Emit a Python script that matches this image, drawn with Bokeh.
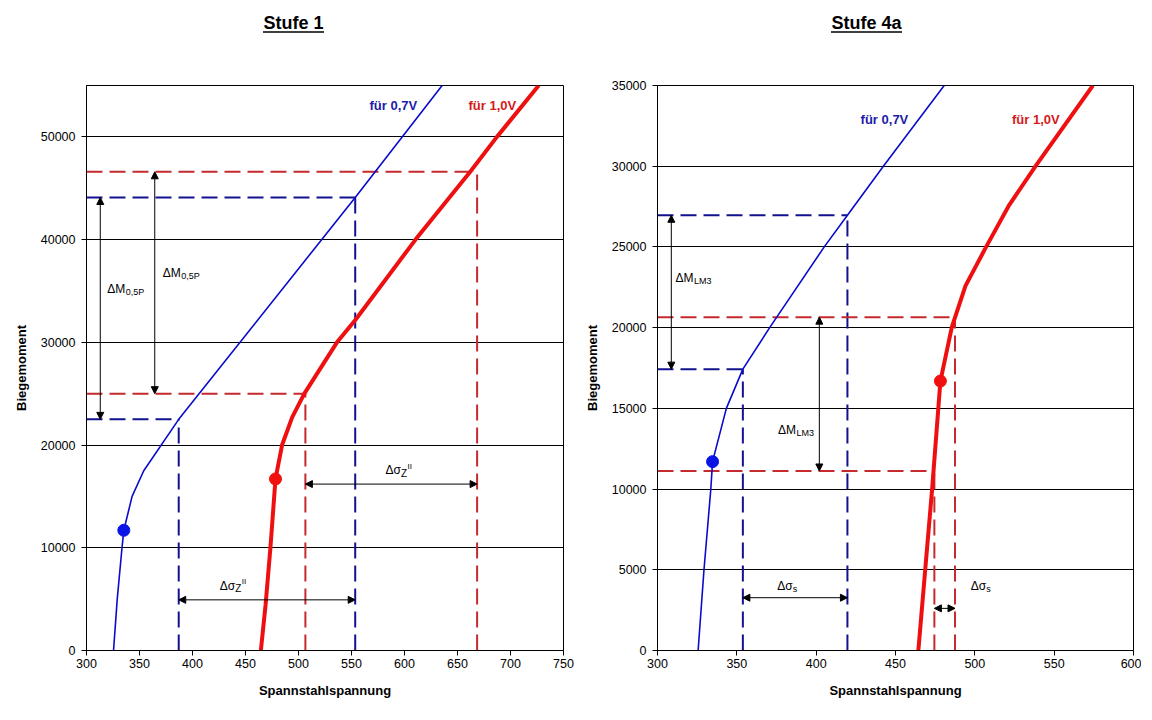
from bokeh.plotting import figure
from bokeh.layouts import row, column
from bokeh.models import (Range1d, Arrow, NormalHead, FixedTicker,
                          ColumnDataSource, NumeralTickFormatter)
from bokeh.embed import file_html
from bokeh.resources import INLINE
from bokeh.core.properties import value

FONT = "Liberation Sans"

# ---------------- titles ----------------
titles = ["Stufe 1", "Stufe 4a"]

# ---------------- Stufe 1 ----------------
s1_x_range = [300, 750]
s1_y_range = [0, 55000]
s1_x_ticks = [300, 350, 400, 450, 500, 550, 600, 650, 700, 750]
s1_y_ticks = [0, 10000, 20000, 30000, 40000, 50000]
s1_blue_x = [325.5, 329, 333.5, 335.2, 343, 354, 387, 553.5, 635.5]
s1_blue_y = [0, 5000, 10000, 11700, 15000, 17500, 22500, 44100, 55000]
s1_red_x = [464.5, 469, 473.5, 478.3, 484.5, 494, 505.5, 536.3, 553.8, 610.4, 662, 687.2, 726.6]
s1_red_y = [0, 4500, 10000, 16700, 20000, 22700, 25000, 30000, 32200, 40000, 46600, 50000, 55000]
s1_blue_pt = [335.2, 11700]
s1_red_pt = [478.3, 16700]
s1_blue_corner_x = [387, 553.5]
s1_blue_corner_y = [22500, 44100]
s1_red_corner_x = [506.5, 668.5]
s1_red_corner_y = [25000, 46600]
s1_arrow_x0 = [313, 364.4, 387, 506.5]
s1_arrow_y0 = [22500, 25000, 4930, 16200]
s1_arrow_x1 = [313, 364.4, 553.5, 668.5]
s1_arrow_y1 = [44100, 46600, 4930, 16200]
s1_lab_x = [319.5, 371.9, 425.7, 582.0]
s1_lab_y = [35180, 36730, 6320, 17550]
s1_lab_main = ["ΔM", "ΔM", "Δσ", "Δσ"]
s1_lab_sub = ["0,5P", "0,5P", "Z", "Z"]
s1_lab_sup = ["", "", "II", "II"]
s1_series_x = [567, 660.4]
s1_series_y = [53060, 53060]
s1_series_text = ["für 0,7V", "für 1,0V"]

# ---------------- Stufe 4a ----------------
s4_x_range = [300, 600]
s4_y_range = [0, 35000]
s4_x_ticks = [300, 350, 400, 450, 500, 550, 600]
s4_y_ticks = [0, 5000, 10000, 15000, 20000, 25000, 30000, 35000]
s4_blue_x = [325.6, 329.3, 333.6, 334.7, 343.4, 353.8, 370.9, 405.2, 419.7, 442.7, 480.7]
s4_blue_y = [0, 5000, 10000, 11700, 15000, 17430, 20030, 25020, 26960, 30050, 35000]
s4_red_x = [464.4, 468.8, 473.1, 478.3, 485.5, 494.1, 507.2, 521.3, 538.6, 574.4]
s4_red_y = [0, 5080, 10020, 16690, 20030, 22590, 25020, 27540, 30050, 35000]
s4_blue_pt = [334.7, 11700]
s4_red_pt = [478.3, 16690]
s4_blue_corner_x = [353.8, 419.7]
s4_blue_corner_y = [17430, 26960]
s4_red_corner_x = [474.5, 487.5]
s4_red_corner_y = [11120, 20650]
s4_arrow_x0 = [308.7, 402, 353.8, 474.5]
s4_arrow_y0 = [17430, 11120, 3270, 2610]
s4_arrow_x1 = [308.7, 402, 419.7, 487.5]
s4_arrow_y1 = [26960, 20650, 3270, 2610]
s4_lab_x = [311.3, 375.9, 375.5, 497.4]
s4_lab_y = [23100, 13680, 3990, 3990]
s4_lab_main = ["ΔM", "ΔM", "Δσ", "Δσ"]
s4_lab_sub = ["LM3", "LM3", "s", "s"]
s4_lab_sup = ["", "", "", ""]
s4_series_x = [428, 523.4]
s4_series_y = [32900, 32900]
s4_series_text = ["für 0,7V", "für 1,0V"]

X_LABEL = "Spannstahlspannung"
Y_LABEL = "Biegemoment"

BLUE = "#0A0ACD"
BLUE_DASH = "#12128F"
BLUE_TXT = "#1C1CA8"
RED = "#EE1010"
RED_DASH = "#C42A2E"
RED_TXT = "#D41A1A"

W1, W2 = 578, 563
HEAD_H = 44


def make_panel(xr, yr, xt, yt, bx, by, rx, ry, bpt, rpt,
               bcx, bcy, rcx, rcy, ax0, ay0, ax1, ay1,
               lx, ly, lmain, lsub, lsup, sx, sy, stext,
               width, height, bl, br, bt, bb):
    p = figure(width=width, height=height,
               x_range=Range1d(*xr), y_range=Range1d(*yr),
               output_backend="svg", toolbar_location=None,
               min_border_left=bl, min_border_right=br,
               min_border_top=bt, min_border_bottom=bb,
               background_fill_color="white", border_fill_color="white")
    p.outline_line_color = "black"
    p.outline_line_width = 1
    p.outline_line_alpha = 1
    p.xgrid.visible = False
    p.ygrid.grid_line_color = "black"
    p.ygrid.grid_line_width = 1
    p.ygrid.grid_line_alpha = 1
    p.xaxis.ticker = FixedTicker(ticks=xt)
    p.yaxis.ticker = FixedTicker(ticks=yt)
    p.yaxis.formatter = NumeralTickFormatter(format="0")
    p.xaxis.formatter = NumeralTickFormatter(format="0")
    for ax in (p.xaxis[0], p.yaxis[0]):
        ax.axis_line_color = "black"
        ax.major_tick_line_color = "black"
        ax.major_tick_out = 5
        ax.major_tick_in = 0
        ax.minor_tick_line_color = None
        ax.major_label_text_font = FONT
        ax.major_label_text_font_size = "12.5px"
        ax.major_label_text_color = "black"
        ax.axis_label_text_font = FONT
        ax.axis_label_text_font_size = "13px"
        ax.axis_label_text_font_style = "bold"
        ax.axis_label_text_color = "black"
    p.xaxis.axis_label = X_LABEL
    p.yaxis.axis_label = Y_LABEL
    p.xaxis.major_label_standoff = 3
    p.xaxis.axis_label_standoff = 12
    p.yaxis.major_label_standoff = 6
    p.yaxis.axis_label_standoff = 9

    x0 = xr[0]
    for cx, cy, col in ((bcx, bcy, BLUE_DASH), (rcx, rcy, RED_DASH)):
        p.segment(x0=[x0] * len(cx), y0=cy, x1=cx, y1=cy,
                  line_color=col, line_width=2, line_dash="16 7")
        p.segment(x0=cx, y0=[yr[0]] * len(cx), x1=cx, y1=cy,
                  line_color=col, line_width=2, line_dash="16 7")

    p.line(bx, by, line_color=BLUE, line_width=1.6)
    p.line(rx, ry, line_color=RED, line_width=4)
    p.scatter([bpt[0]], [bpt[1]], size=12, color="#0A14E6")
    p.scatter([rpt[0]], [rpt[1]], size=12, color="#F01010")

    src = ColumnDataSource(dict(x0=ax0, y0=ay0, x1=ax1, y1=ay1))
    p.add_layout(Arrow(source=src, x_start="x0", y_start="y0",
                       x_end="x1", y_end="y1", line_width=1, line_color="black",
                       start=NormalHead(size=7, fill_color="black", line_color="black"),
                       end=NormalHead(size=7, fill_color="black", line_color="black")))

    main_w = {"ΔM": 18.5, "Δσ": 15.5}
    sub_w = {"Z": 6.5}
    for x, y, m, s, u in zip(lx, ly, lmain, lsub, lsup):
        p.text([x], [y], text=[m], text_font=value(FONT), text_font_size="12px",
               text_align="left", text_baseline="middle", text_color="black")
        sub_size = "10px" if s == "Z" else "9px"
        p.text([x], [y], text=[s], text_font=value(FONT), text_font_size=sub_size,
               text_align="left", text_baseline="middle", text_color="black",
               x_offset=main_w[m], y_offset=3)
        if u:
            p.text([x], [y], text=[u], text_font=value(FONT), text_font_size="8px",
                   text_align="left", text_baseline="middle", text_color="black",
                   x_offset=main_w[m] + sub_w.get(s, 5), y_offset=-4)

    p.text([sx[0]], [sy[0]], text=[stext[0]], text_font=value(FONT), text_font_size="13px",
           text_font_style="bold", text_color=BLUE_TXT, text_align="left", text_baseline="middle")
    p.text([sx[1]], [sy[1]], text=[stext[1]], text_font=value(FONT), text_font_size="13px",
           text_font_style="bold", text_color=RED_TXT, text_align="left", text_baseline="middle")
    return p


# header strip with the two underlined titles (pixel coordinate space)
head = figure(width=W1 + W2, height=HEAD_H, x_range=Range1d(0, W1 + W2),
              y_range=Range1d(HEAD_H, 0), output_backend="svg", toolbar_location=None,
              min_border=0, x_axis_location=None, y_axis_location=None)
head.grid.visible = False
head.outline_line_color = None
title_cx = [293, 866]
title_w = [61, 71]
head.text(title_cx, [22, 22], text=titles, text_font=value(FONT), text_font_size="18px",
          text_font_style="bold", text_color="black", text_align="center",
          text_baseline="middle")
head.segment(x0=[c - w / 2 for c, w in zip(title_cx, title_w)], y0=[31.5, 31.5],
             x1=[c + w / 2 for c, w in zip(title_cx, title_w)], y1=[31.5, 31.5],
             line_color="black", line_width=1.6)

p1 = make_panel(s1_x_range, s1_y_range, s1_x_ticks, s1_y_ticks,
                s1_blue_x, s1_blue_y, s1_red_x, s1_red_y, s1_blue_pt, s1_red_pt,
                s1_blue_corner_x, s1_blue_corner_y, s1_red_corner_x, s1_red_corner_y,
                s1_arrow_x0, s1_arrow_y0, s1_arrow_x1, s1_arrow_y1,
                s1_lab_x, s1_lab_y, s1_lab_main, s1_lab_sub, s1_lab_sup,
                s1_series_x, s1_series_y, s1_series_text,
                width=W1, height=666, bl=86, br=15, bt=84 - HEAD_H, bb=60)

p2 = make_panel(s4_x_range, s4_y_range, s4_x_ticks, s4_y_ticks,
                s4_blue_x, s4_blue_y, s4_red_x, s4_red_y, s4_blue_pt, s4_red_pt,
                s4_blue_corner_x, s4_blue_corner_y, s4_red_corner_x, s4_red_corner_y,
                s4_arrow_x0, s4_arrow_y0, s4_arrow_x1, s4_arrow_y1,
                s4_lab_x, s4_lab_y, s4_lab_main, s4_lab_sub, s4_lab_sup,
                s4_series_x, s4_series_y, s4_series_text,
                width=W2, height=666, bl=79, br=8, bt=85 - HEAD_H, bb=59)

layout = column(head, row(p1, p2, spacing=0), spacing=0)
open("out.html", "w").write(file_html(layout, INLINE))
